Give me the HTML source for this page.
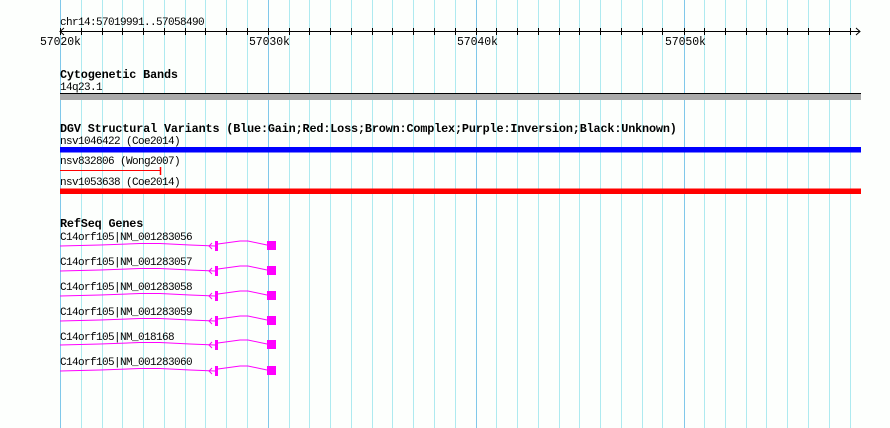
<!DOCTYPE html>
<html><head><meta charset="utf-8"><style>
html,body{margin:0;padding:0;background:#fff;}
svg{display:block;}
text{font-family:"Liberation Mono","DejaVu Sans Mono",monospace;font-size:11px;letter-spacing:-0.6px;fill:#000;}
.b{font-weight:bold;font-size:11.8px;letter-spacing:-0.15px;}
.ax{font-size:11.5px;letter-spacing:-0.1px;}
</style></head><body>
<svg width="890" height="428" viewBox="0 0 890 428" xmlns="http://www.w3.org/2000/svg">
<rect width="890" height="428" fill="#fdfffd"/>
<g stroke="#aeeaf0" stroke-width="1">
<line x1="81.5" y1="0" x2="81.5" y2="428"/><line x1="102.5" y1="0" x2="102.5" y2="428"/><line x1="122.5" y1="0" x2="122.5" y2="428"/><line x1="143.5" y1="0" x2="143.5" y2="428"/><line x1="164.5" y1="0" x2="164.5" y2="428"/><line x1="185.5" y1="0" x2="185.5" y2="428"/><line x1="205.5" y1="0" x2="205.5" y2="428"/><line x1="226.5" y1="0" x2="226.5" y2="428"/><line x1="247.5" y1="0" x2="247.5" y2="428"/>
<line x1="289.5" y1="0" x2="289.5" y2="428"/><line x1="309.5" y1="0" x2="309.5" y2="428"/><line x1="330.5" y1="0" x2="330.5" y2="428"/><line x1="351.5" y1="0" x2="351.5" y2="428"/><line x1="372.5" y1="0" x2="372.5" y2="428"/><line x1="392.5" y1="0" x2="392.5" y2="428"/><line x1="413.5" y1="0" x2="413.5" y2="428"/><line x1="434.5" y1="0" x2="434.5" y2="428"/><line x1="455.5" y1="0" x2="455.5" y2="428"/>
<line x1="496.5" y1="0" x2="496.5" y2="428"/><line x1="517.5" y1="0" x2="517.5" y2="428"/><line x1="538.5" y1="0" x2="538.5" y2="428"/><line x1="559.5" y1="0" x2="559.5" y2="428"/><line x1="579.5" y1="0" x2="579.5" y2="428"/><line x1="600.5" y1="0" x2="600.5" y2="428"/><line x1="621.5" y1="0" x2="621.5" y2="428"/><line x1="642.5" y1="0" x2="642.5" y2="428"/><line x1="662.5" y1="0" x2="662.5" y2="428"/>
<line x1="704.5" y1="0" x2="704.5" y2="428"/><line x1="725.5" y1="0" x2="725.5" y2="428"/><line x1="746.5" y1="0" x2="746.5" y2="428"/><line x1="766.5" y1="0" x2="766.5" y2="428"/><line x1="787.5" y1="0" x2="787.5" y2="428"/><line x1="808.5" y1="0" x2="808.5" y2="428"/><line x1="829.5" y1="0" x2="829.5" y2="428"/><line x1="850.5" y1="0" x2="850.5" y2="428"/>
</g>
<g stroke="#80c8ea" stroke-width="1">
<line x1="60.5" y1="0" x2="60.5" y2="428"/><line x1="268.5" y1="0" x2="268.5" y2="428"/><line x1="476.5" y1="0" x2="476.5" y2="428"/><line x1="684.5" y1="0" x2="684.5" y2="428"/>
</g>
<text x="60" y="25">chr14:57019991..57058490</text>
<g stroke="#000" stroke-width="1">
<line x1="60" y1="31.5" x2="860" y2="31.5"/>
<polyline points="856,28 860,31.5 856,35" fill="none"/>
<polyline points="64,28 60,31.5 64,35" fill="none"/>
<path d="M60.5 28v7M81.5 28v7M102.5 28v7M122.5 28v7M143.5 28v7M164.5 28v7M185.5 28v7M205.5 28v7M226.5 28v7M247.5 28v7M268.5 28v7M289.5 28v7M309.5 28v7M330.5 28v7M351.5 28v7M372.5 28v7M392.5 28v7M413.5 28v7M434.5 28v7M455.5 28v7M476.5 28v7M496.5 28v7M517.5 28v7M538.5 28v7M559.5 28v7M579.5 28v7M600.5 28v7M621.5 28v7M642.5 28v7M662.5 28v7M684.5 28v7M704.5 28v7M725.5 28v7M746.5 28v7M766.5 28v7M787.5 28v7M808.5 28v7M829.5 28v7M850.5 28v7"/>
</g>
<text class="ax" x="40" y="45">57020k</text>
<text class="ax" x="249" y="45">57030k</text>
<text class="ax" x="457" y="45">57040k</text>
<text class="ax" x="665" y="45">57050k</text>

<text class="b" x="60" y="78">Cytogenetic Bands</text>
<text x="60" y="90">14q23.1</text>
<rect x="60" y="94" width="801" height="6" fill="#aaaaaa"/>
<line x1="60" y1="93.5" x2="861" y2="93.5" stroke="#000"/>

<text class="b" x="60" y="132">DGV Structural Variants (Blue:Gain;Red:Loss;Brown:Complex;Purple:Inversion;Black:Unknown)</text>
<text x="60" y="144">nsv1046422 (Coe2014)</text>
<rect x="60" y="147" width="801" height="5.5" fill="#0000ff"/>
<text x="60" y="164">nsv832806 (Wong2007)</text>
<line x1="60" y1="170.5" x2="160" y2="170.5" stroke="#ff0000"/>
<line x1="160.5" y1="167" x2="160.5" y2="175" stroke="#ff0000" stroke-width="1.5"/>
<text x="60" y="185">nsv1053638 (Coe2014)</text>
<rect x="60" y="188.5" width="801" height="5.5" fill="#ff0000"/>

<text class="b" x="60" y="227">RefSeq Genes</text>
<text x="60" y="240">C14orf105|NM_001283056</text>
<text x="60" y="265">C14orf105|NM_001283057</text>
<text x="60" y="290">C14orf105|NM_001283058</text>
<text x="60" y="315">C14orf105|NM_001283059</text>
<text x="60" y="340">C14orf105|NM_018168</text>
<text x="60" y="365">C14orf105|NM_001283060</text>
<g fill="none" stroke="#ff00ff" stroke-width="1">
<polyline points="60,246 100,245 140,243.5 160,243.5 190,245 215,246"/><polyline points="212,243 209,246 212,249"/><polyline points="218,244 240,241 248,241 267,245"/>
<polyline points="60,271 100,270 140,268.5 160,268.5 190,270 215,271"/><polyline points="212,268 209,271 212,274"/><polyline points="218,269 240,266 248,266 267,270"/>
<polyline points="60,296 100,295 140,293.5 160,293.5 190,295 215,296"/><polyline points="212,293 209,296 212,299"/><polyline points="218,294 240,291 248,291 267,295"/>
<polyline points="60,321 100,320 140,318.5 160,318.5 190,320 215,321"/><polyline points="212,318 209,321 212,324"/><polyline points="218,319 240,316 248,316 267,320"/>
<polyline points="60,345 100,344 140,342.5 160,342.5 190,344 215,345"/><polyline points="212,342 209,345 212,348"/><polyline points="218,343 240,340 248,340 267,344"/>
<polyline points="60,371 100,370 140,368.5 160,368.5 190,370 215,371"/><polyline points="212,368 209,371 212,374"/><polyline points="218,369 240,366 248,366 267,370"/>
</g>
<g fill="#ff00ff">
<rect x="215" y="241" width="3" height="10"/><rect x="267" y="241" width="9" height="9"/>
<rect x="215" y="266" width="3" height="10"/><rect x="267" y="266" width="9" height="9"/>
<rect x="215" y="291" width="3" height="10"/><rect x="267" y="291" width="9" height="9"/>
<rect x="215" y="316" width="3" height="10"/><rect x="267" y="316" width="9" height="9"/>
<rect x="215" y="340" width="3" height="10"/><rect x="267" y="340" width="9" height="9"/>
<rect x="215" y="366" width="3" height="10"/><rect x="267" y="366" width="9" height="9"/>
</g>
</svg>
</body></html>
